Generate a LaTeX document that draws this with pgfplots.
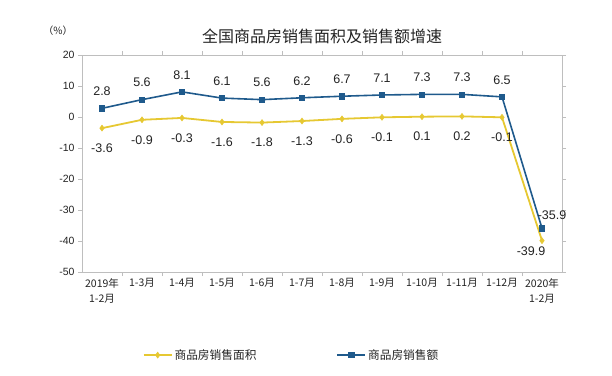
\documentclass[border=0pt]{standalone}
\usepackage{fontspec}
\setmainfont{Liberation Sans}
\newfontfamily\cjk{Noto Sans CJK SC}
\usepackage{pgfplots}
\pgfplotsset{compat=1.18}
\usepackage{pgfplotstable}
\definecolor{ylw}{RGB}{230,200,50}
\definecolor{blu}{RGB}{31,90,140}
\definecolor{axgray}{RGB}{190,190,190}
\definecolor{txt}{RGB}{35,35,35}

\pgfplotstableread{
x area alab sales slab
0 -3.6 -3.6 2.8 2.8
1 -0.9 -0.9 5.6 5.6
2 -0.3 -0.3 8.1 8.1
3 -1.6 -1.6 6.1 6.1
4 -1.8 -1.8 5.6 5.6
5 -1.3 -1.3 6.2 6.2
6 -0.6 -0.6 6.7 6.7
7 -0.1 -0.1 7.1 7.1
8 0.1 0.1 7.3 7.3
9 0.2 0.2 7.3 7.3
10 -0.1 -0.1 6.5 6.5
11 -39.9 -39.9 -35.9 -35.9
}\data

\begin{document}
\begin{tikzpicture}[x=1pt,y=1pt]
\path[use as bounding box] (0,0) rectangle (612,375);
\begin{axis}[
  at={(82pt,103pt)}, anchor=south west,
  scale only axis, width=480pt, height=217pt,
  xmin=-0.5, xmax=11.5, ymin=-50, ymax=20,
  ytick={-50,-40,-30,-20,-10,0,10,20},
  xtick={0.5,1.5,...,10.5},
  xticklabels={},
  extra x ticks={0,...,11},
  extra x tick labels={{2019年\\1-2月},1-3月,1-4月,1-5月,1-6月,1-7月,1-8月,1-9月,1-10月,1-11月,1-12月,{2020年\\1-2月}},
  extra x tick style={major tick length=0pt, tick style={draw=none}},
  x tick label style={font=\cjk\fontsize{10.5}{15}\selectfont, align=center, text=txt, yshift=-3pt},
  y tick label style={font=\fontsize{10.5}{12}\selectfont, text=txt},
  /pgf/number format/assume math mode=true,
  axis line style={axgray},
  tick style={axgray},
  tick align=outside,
  major tick length=4pt,
  title={\cjk 全国商品房销售面积及销售额增速},
  title style={font=\cjk\fontsize{16}{19}\selectfont, text=txt, at={(0.5,1)}, anchor=center, yshift=13pt},
  legend columns=2,
  legend style={at={(0.12,-0.383)}, anchor=west, draw=none, fill=none,
    font=\cjk\fontsize{11.7}{14}\selectfont, text=txt,
    /tikz/every even column/.append style={column sep=78pt}},
  legend image code/.code={\draw[mark repeat=2,mark phase=2] plot coordinates {(0pt,0pt)(14pt,0pt)(28pt,0pt)};},
  clip=false,
]
\addplot[ylw, line width=1.8pt, mark=diamond*, mark size=3pt,
  mark options={fill=ylw, draw=ylw, line width=0.5pt},
  point meta=explicit symbolic, nodes near coords,
  every node near coord/.append style={font=\fontsize{12.5}{14}\selectfont, text=txt, anchor=center, yshift=-20pt},
  coordinate style/.condition={\coordindex==11}{xshift=-11pt, yshift=9pt}]
  table[x=x, y=area, meta=alab] {\data};
\addlegendentry{商品房销售面积}
\addplot[blu, line width=1.6pt, mark=square*, mark size=2.6pt,
  mark options={fill=blu, draw=blu, line width=0.5pt},
  point meta=explicit symbolic, nodes near coords,
  every node near coord/.append style={font=\fontsize{12.5}{14}\selectfont, text=txt, anchor=center, yshift=17pt},
  coordinate style/.condition={\coordindex==11}{xshift=10pt, yshift=-4pt}]
  table[x=x, y=sales, meta=slab] {\data};
\addlegendentry{商品房销售额}
\node[font=\cjk\fontsize{10}{12}\selectfont, text=txt] at (rel axis cs:-0.05,1.11) {（\%）};
\end{axis}
\end{tikzpicture}
\end{document}
